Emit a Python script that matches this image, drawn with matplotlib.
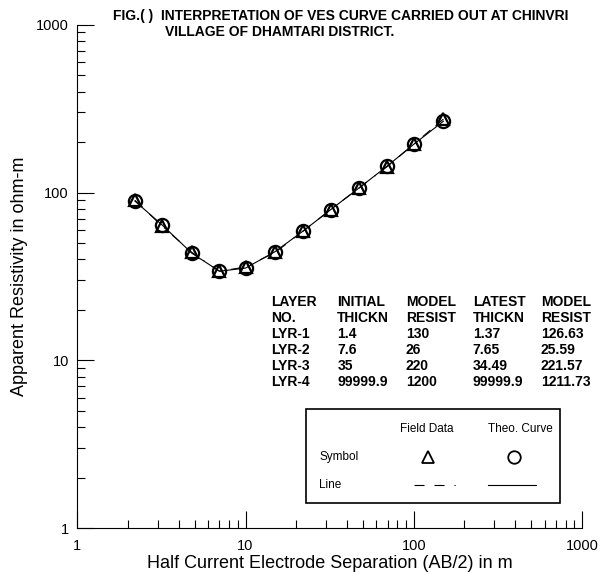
import matplotlib
matplotlib.use("Agg")
import matplotlib.pyplot as plt
from matplotlib.ticker import LogLocator, NullFormatter
from matplotlib.lines import Line2D
from matplotlib.patches import Rectangle

plt.rcParams["font.family"] = ["Liberation Sans", "DejaVu Sans"]

# VES sounding data
ab2 = [2.2, 3.2, 4.8, 7.0, 10, 15, 22, 32, 47, 69, 100, 150]
field_rho = [90, 63, 44, 34, 36, 44, 59, 79, 106, 142, 194, 274]
theo_rho = [89, 64, 43.5, 34, 35.5, 44.5, 59, 79, 106, 143, 194, 266]

x_ticks = [1, 10, 100, 1000]
y_ticks = [1, 10, 100, 1000]
tick_labels = ["1", "10", "100", "1000"]

# layer table
table_head1 = ["LAYER", "INITIAL", "MODEL", "LATEST", "MODEL"]
table_head2 = ["NO.", "THICKN", "RESIST", "THICKN", "RESIST"]
layer_no = ["LYR-1", "LYR-2", "LYR-3", "LYR-4"]
init_thick = ["1.4", "7.6", "35", "99999.9"]
model_res = ["130", "26", "220", "1200"]
latest_thick = ["1.37", "7.65", "34.49", "99999.9"]
latest_res = ["126.63", "25.59", "221.57", "1211.73"]

W, H = 606, 573


def fx(p):
    return p / W


def fy(p):
    return 1 - p / H


fig = plt.figure(figsize=(W / 100, H / 100), dpi=100)
ax_l, ax_r, ax_t, ax_b = 77.3, 582, 24.7, 528.3
ax = fig.add_axes([fx(ax_l), fy(ax_b), fx(ax_r) - fx(ax_l), fy(ax_t) - fy(ax_b)])

ax.plot(ab2, theo_rho, color="black", lw=0.8, marker="o", ms=9.5, mfc="none",
        mec="black", mew=1.6, zorder=3)
fl, = ax.plot(ab2, field_rho, color="black", lw=0.8, marker="^", ms=9, mfc="none",
              mec="black", mew=1.6, zorder=4)
fl.set_dashes([9, 9, 9, 9, 1, 9])

ax.set_xscale("log")
ax.set_yscale("log")
ax.set_xlim(1, 1000)
ax.set_ylim(1, 1000)
ax.set_xticks(x_ticks)
ax.set_xticklabels(tick_labels)
ax.set_yticks(y_ticks)
ax.set_yticklabels(tick_labels)
for axis in (ax.xaxis, ax.yaxis):
    axis.set_minor_locator(LogLocator(base=10, subs=range(2, 10)))
    axis.set_minor_formatter(NullFormatter())
ax.tick_params(which="major", direction="in", length=12, width=0.8, labelsize=10.5)
ax.tick_params(axis="x", which="major", pad=8)
ax.tick_params(axis="y", which="major", pad=6)
ax.tick_params(which="minor", direction="in", length=6, width=0.8)
ax.spines["top"].set_visible(False)
ax.spines["right"].set_visible(False)
ax.spines["left"].set_linewidth(0.8)
ax.spines["bottom"].set_linewidth(0.8)

ax.set_xlabel("Half Current Electrode Separation (AB/2) in m", fontsize=13, labelpad=1)
ax.set_ylabel("Apparent Resistivity in ohm-m", fontsize=13)
ax.yaxis.set_label_coords((28 - ax_l) / (ax_r - ax_l), 0.5)

# title
fig.text(fx(113), fy(16), "FIG.( )  INTERPRETATION OF VES CURVE CARRIED OUT AT CHINVRI",
         fontsize=10, fontweight="bold", va="center", ha="left")
fig.text(fx(165), fy(31.5), "VILLAGE OF DHAMTARI DISTRICT.",
         fontsize=10, fontweight="bold", va="center", ha="left")

# layer table
col_x = [270.7, 337.3, 406, 472.7, 540.7]
rows = [table_head1, table_head2] + [list(r) for r in zip(layer_no, init_thick, model_res,
                                                            latest_thick, latest_res)]
for i, row in enumerate(rows):
    for cx, txt in zip(col_x, row):
        fig.text(fx(cx), fy(302.5 + 16 * i), txt, fontsize=10, fontweight="bold",
                 va="center", ha="left")

# legend box
fig.patches.append(Rectangle((fx(306), fy(502.7)), fx(560) - fx(306), fy(409.3) - fy(502.7),
                             transform=fig.transFigure, fill=False, edgecolor="black", lw=1.2))
fig.text(fx(426.7), fy(429.3), "Field Data", fontsize=8.5, ha="center", va="center")
fig.text(fx(520), fy(429.3), "Theo. Curve", fontsize=8.5, ha="center", va="center")
fig.text(fx(319), fy(457.3), "Symbol", fontsize=8.5, ha="left", va="center")
fig.text(fx(319), fy(485), "Line", fontsize=8.5, ha="left", va="center")
fig.lines.append(Line2D([fx(427.7)], [fy(457)], transform=fig.transFigure, marker="^", ms=8,
                        mfc="none", mec="black", mew=1.3, ls="none"))
fig.lines.append(Line2D([fx(514.3)], [fy(457)], transform=fig.transFigure, marker="o", ms=9,
                        mfc="none", mec="black", mew=1.3, ls="none"))
dl = Line2D([fx(414), fx(462)], [fy(485), fy(485)], transform=fig.transFigure, color="black", lw=0.8)
dl.set_dashes([9, 9, 9, 9, 1, 9])
fig.lines.append(dl)
fig.lines.append(Line2D([fx(488), fx(536)], [fy(485), fy(485)], transform=fig.transFigure,
                        color="black", lw=0.8))

fig.savefig("out.png", dpi=100)
